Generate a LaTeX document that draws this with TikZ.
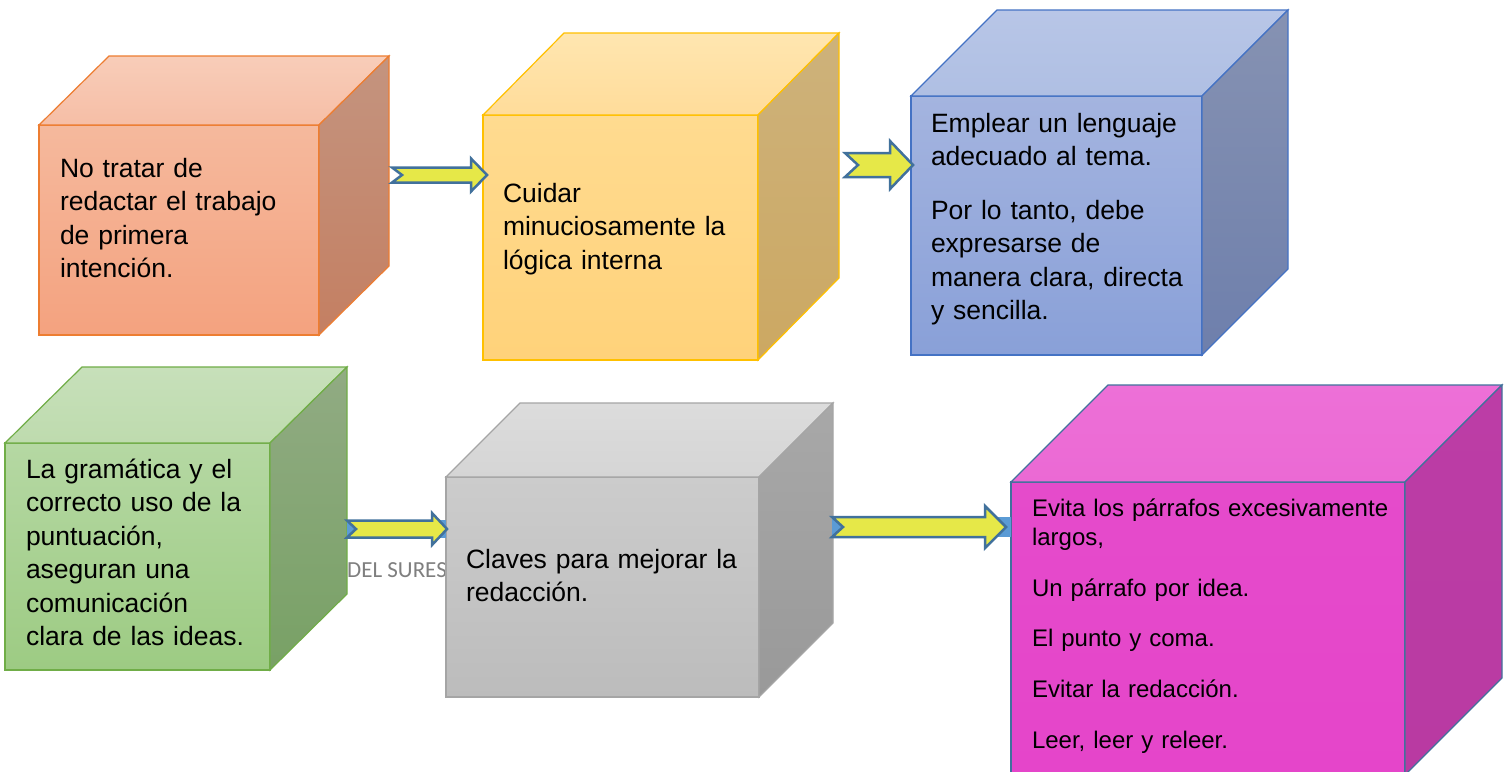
\documentclass[tikz,border=0pt]{standalone}
\usepackage{fontspec}
\setmainfont{Liberation Sans}
\newfontfamily\carlitofont{Carlito}
\usetikzlibrary{calc}
% orange
\definecolor{orline}{HTML}{ED7D31}
\definecolor{orft}{HTML}{F5B99D}
\definecolor{orfb}{HTML}{F4A27F}
\definecolor{ortt}{HTML}{F8CDB9}
\definecolor{ortb}{HTML}{F6BEA6}
\definecolor{orst}{HTML}{C4947F}
\definecolor{orsb}{HTML}{C47F62}
% yellow
\definecolor{yeline}{HTML}{FFC000}
\definecolor{yeft}{HTML}{FFDB90}
\definecolor{yefb}{HTML}{FFD27A}
\definecolor{yett}{HTML}{FFE6B0}
\definecolor{yetb}{HTML}{FFDC9A}
\definecolor{yest}{HTML}{CDB27B}
\definecolor{yesb}{HTML}{CCA862}
% blue
\definecolor{blline}{HTML}{4472C4}
\definecolor{blft}{HTML}{A4B4DF}
\definecolor{blfb}{HTML}{89A0D8}
\definecolor{bltt}{HTML}{B8C6E7}
\definecolor{bltb}{HTML}{AFBFE3}
\definecolor{blst}{HTML}{8692B2}
\definecolor{blsb}{HTML}{6E7FAC}
% green
\definecolor{grline}{HTML}{70AD47}
\definecolor{grft}{HTML}{B5D8A3}
\definecolor{grfb}{HTML}{9DCB83}
\definecolor{grtt}{HTML}{C7E0BA}
\definecolor{grtb}{HTML}{BEDBAE}
\definecolor{grst}{HTML}{91AB83}
\definecolor{grsb}{HTML}{78A165}
% gray
\definecolor{gyline}{HTML}{A5A5A5}
\definecolor{gyft}{HTML}{CCCCCC}
\definecolor{gyfb}{HTML}{BCBCBC}
\definecolor{gytt}{HTML}{DCDCDC}
\definecolor{gytb}{HTML}{D5D5D5}
\definecolor{gyst}{HTML}{A8A8A8}
\definecolor{gysb}{HTML}{999999}
% magenta
\definecolor{mgline}{HTML}{41719C}
\definecolor{mgft}{HTML}{E54BCB}
\definecolor{mgfb}{HTML}{E545CA}
\definecolor{mgtt}{HTML}{ED70D7}
\definecolor{mgtb}{HTML}{EB69D4}
\definecolor{mgst}{HTML}{BC3DA6}
\definecolor{mgsb}{HTML}{B93AA2}
% arrows
\definecolor{arrowfill}{HTML}{E6E848}
\definecolor{arrowline}{HTML}{41719C}
\definecolor{arrowback}{HTML}{5B9BD5}
\definecolor{footgray}{HTML}{7F7F7F}

\tikzset{
  cubefront/.style={draw, line width=1.2pt, inner sep=0pt, outer sep=0pt, anchor=north west},
  cubeface/.style={line width=1.2pt, line join=miter},
  cubetext/.style={anchor=north west, inner sep=0pt, outer sep=0pt, align=left,
    text width=#1, font=\fontsize{26.5}{33.5}\selectfont},
  smalltext/.style={anchor=north west, inner sep=0pt, outer sep=0pt, align=left,
    text width=#1, font=\fontsize{24}{29}\selectfont},
  blockarrow/.style={fill=arrowfill, draw=arrowline, line width=2.5pt, line join=miter},
  arrowbg/.style={fill=arrowback},
}

\newcommand\mkcube[8]{%
  \node[cubefront, draw=#8line, top color=#8ft, bottom color=#8fb,
        minimum width={#4-#2}, minimum height={#5-#3}] (#1) at (#2,#3) {};
  \coordinate (#1-bl) at ($(#1.north west)+(#6,-#7)$);
  \coordinate (#1-br) at ($(#1.north east)+(#6,-#7)$);
  \coordinate (#1-brb) at ($(#1.south east)+(#6,-#7)$);
  \shadedraw[cubeface, draw=#8line, top color=#8tt, bottom color=#8tb]
    (#1.north west) -- (#1-bl) -- (#1-br) -- (#1.north east) -- cycle;
  \shadedraw[cubeface, draw=#8line, top color=#8st, bottom color=#8sb]
    (#1.north east) -- (#1-br) -- (#1-brb) -- (#1.south east) -- cycle;
}

% #1 tail coordinate, #2 tip coordinate, #3 shaft half height, #4 head half height,
% #5 head length, #6 notch depth
\newcommand\notcharrow[6]{%
  \draw[blockarrow] let \p1=(#1), \p2=(#2) in
    (\x1,{\y1+#3}) -- ({\x2-#5},{\y1+#3}) -- ({\x2-#5},{\y1+#4}) -- (\x2,\y1)
    -- ({\x2-#5},{\y1-#4}) -- ({\x2-#5},{\y1-#3}) -- (\x1,{\y1-#3})
    -- ({\x1+#6},\y1) -- cycle;
}

\begin{document}
\begin{tikzpicture}[x=1pt, y=-1pt]
\clip (0,0) rectangle (1504,771);
\useasboundingbox (0,0) rectangle (1504,771);
\fill[white] (0,0) rectangle (1504,771);

% text behind the gray cube
\node[anchor=base west, inner sep=0pt, font=\carlitofont\fontsize{23}{27}\selectfont,
      text=footgray] (footer) at (347,577) {DEL SURES};

% cubes
\mkcube{orange}{39}{125}{319}{335}{70}{69}{or}
\mkcube{yellow}{483}{115}{758}{360}{81}{82}{ye}
\mkcube{blue}{911}{96}{1202}{355}{86}{86}{bl}
\mkcube{green}{5}{443}{270}{670}{77}{76}{gr}
\mkcube{gray}{446}{477}{759}{697}{74}{74}{gy}
\mkcube{magenta}{1011}{482}{1405}{775}{97}{97}{mg}

% texts
\node[cubetext=250pt] (orange-t) at (60,155)
  {\rule{0pt}{22pt}No tratar de\\redactar el trabajo\\de primera\\intención.};
\node[cubetext=250pt] (yellow-t) at (503,180)
  {\rule{0pt}{22pt}Cuidar\\minuciosamente la\\lógica interna};
\node[cubetext=270pt] (blue-t) at (931,110)
  {\rule{0pt}{22pt}Emplear un lenguaje\\adecuado al tema.\\[20pt]Por lo tanto, debe\\expresarse de\\manera clara, directa\\y sencilla.};
\node[cubetext=240pt] (green-t) at (26,456)
  {\rule{0pt}{22pt}La gramática y el\\correcto uso de la\\puntuación,\\aseguran una\\comunicación\\clara de las ideas.};
\node[cubetext=290pt] (gray-t) at (466,546)
  {\rule{0pt}{22pt}Claves para mejorar la\\redacción.};
\node[smalltext=370pt] (magenta-t) at (1032,494)
  {\rule{0pt}{22pt}Evita los párrafos excesivamente\\largos,\\[22pt]Un párrafo por idea.\\[21pt]El punto y coma.\\[22pt]Evitar la redacción.\\[22pt]Leer, leer y releer.};

% arrow end points
\coordinate (a1s) at ($(orange-br |- 0,175)+(3,0)$);
\coordinate (a1e) at ($(yellow.west |- a1s)+(4,0)$);
\coordinate (a2s) at ($(yellow-br |- 0,165)+(6,0)$);
\coordinate (a2e) at ($(blue.west |- a2s)+(2,0)$);
\coordinate (a3s) at ($(green-br |- 0,529)+(0,0)$);
\coordinate (a3e) at ($(gray.west |- a3s)+(1,0)$);
\coordinate (a4s) at ($(gray-br |- 0,527)+(-1,0)$);
\coordinate (a4e) at ($(magenta.west |- a4s)+(-5,0)$);

% blue backing behind the lower arrows
\fill[arrowbg] ($(a3s)+(0,-9)$) rectangle ($(gray.west |- a3s)+(0,9)$);
\fill[arrowbg] ($(a4s)+(0,-10)$) rectangle ($(magenta.west |- a4s)+(0,10)$);

% arrows
\notcharrow{a1s}{a1e}{7.5}{16.5}{16}{10}
\notcharrow{a2s}{a2e}{12}{24}{23}{13}
\notcharrow{a3s}{a3e}{8.5}{16}{15}{9}
\notcharrow{a4s}{a4e}{10}{21}{21}{11}
\end{tikzpicture}
\end{document}
